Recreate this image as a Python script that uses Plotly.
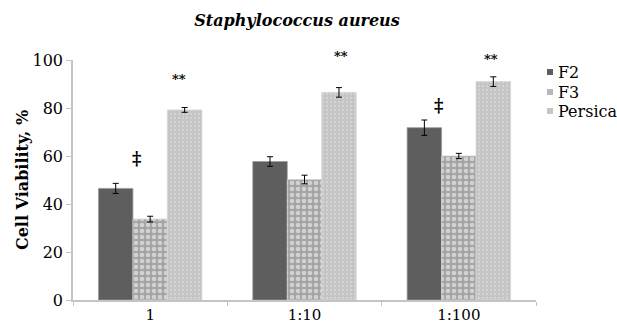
import plotly.graph_objects as go

categories = ["1", "1:10", "1:100"]
series_names = ["F2", "F3", "Persica"]
f2_values = [46.5, 57.7, 71.8]
f2_errors = [2.1, 2.0, 3.2]
f3_values = [33.7, 50.2, 60.0]
f3_errors = [1.2, 1.8, 1.1]
persica_values = [79.2, 86.5, 91.0]
persica_errors = [1.0, 2.0, 2.0]
y_ticks = [0, 20, 40, 60, 80, 100]
y_range = [0, 100]

# significance marks: (category, y value, label, x pixel shift)
marks_cat = ["1", "1", "1:10", "1:100", "1:100"]
marks_y = [58.8, 92.0, 101.3, 81.2, 100.3]
marks_text = ["‡", "**", "**", "‡", "**"]
marks_shift = [-14, 29, 36, -20, 32]

FONT = "DejaVu Serif"
err = dict(type="data", thickness=1, width=3, color="black")

fig = go.Figure()
fig.add_bar(name=series_names[0], x=categories, y=f2_values,
            error_y=dict(array=f2_errors, **err),
            marker=dict(color="#5e5e5e", line=dict(color="#9a9a9a", width=0.8)))
fig.add_bar(name=series_names[1], x=categories, y=f3_values,
            error_y=dict(array=f3_errors, **err),
            marker=dict(color="#a4a4a4", line=dict(color="#d0d0d0", width=0.8),
                        pattern=dict(shape=".", fgcolor="#ffffff", bgcolor="#a4a4a4",
                                     size=6, solidity=0.45, fillmode="overlay")))
fig.add_bar(name=series_names[2], x=categories, y=persica_values,
            error_y=dict(array=persica_errors, **err),
            marker=dict(color="#c6c6c6", line=dict(color="#d4d4d4", width=0.8),
                        pattern=dict(shape=".", fgcolor="#e6e6e6", bgcolor="#c4c4c4",
                                     size=4, solidity=0.25, fillmode="overlay")))

for c, yv, t, s in zip(marks_cat, marks_y, marks_text, marks_shift):
    fig.add_annotation(x=categories.index(c), yref="paper",
                       y=(yv - y_range[0]) / (y_range[1] - y_range[0]),
                       xanchor="center", yanchor="middle",
                       text="<b>%s</b>" % t, showarrow=False,
                       xshift=s, font=dict(family=FONT, size=13 if t == "**" else 18, color="black"))

# custom legend
legend_colors = ["#5e5e5e", "#b8b8b8", "#c6c6c6"]
legend_y = [72, 92, 111]
for name, col, py in zip(series_names, legend_colors, legend_y):
    fig.add_shape(type="rect", xref="paper", yref="paper",
                  x0=(547 - 73) / 463, x1=(553 - 73) / 463,
                  y0=(300 - py - 3) / 240, y1=(300 - py + 3) / 240,
                  fillcolor=col, line=dict(width=0))
    fig.add_annotation(xref="paper", yref="paper", x=(556 - 73) / 463, y=(300 - py) / 240,
                       xanchor="left", yanchor="middle", text=name, showarrow=False,
                       font=dict(family=FONT, size=16, color="black"))

fig.update_layout(
    width=617, height=329,
    margin=dict(l=73, r=81, t=60, b=29, autoexpand=False),
    plot_bgcolor="white", paper_bgcolor="white",
    barmode="group", bargap=0.33, bargroupgap=0,
    showlegend=False,
    title=dict(text="<b><i>Staphylococcus aureus</i></b>", x=297 / 617, xanchor="center",
               y=1 - 20 / 329, yanchor="middle", font=dict(family=FONT, size=16, color="black")),
    font=dict(family=FONT, color="black"),
)
fig.update_xaxes(showline=True, linecolor="#c4c4c4", linewidth=1.5, ticks="outside",
                 tickson="boundaries", ticklen=4, tickcolor="#c4c4c4", automargin=False,
                 tickfont=dict(family=FONT, size=15, color="black"), showgrid=False)
fig.update_yaxes(range=y_range, tickvals=y_ticks, showline=True, linecolor="#c4c4c4", linewidth=1.5,
                 ticks="outside", ticklen=5, tickcolor="#c4c4c4", showgrid=False, zeroline=False,
                 automargin=False,
                 tickfont=dict(family=FONT, size=16, color="black"),
                 title=dict(text="<b>Cell Viability, %</b>", font=dict(family=FONT, size=16, color="black"),
                            standoff=0))
fig.write_html("out.html")
